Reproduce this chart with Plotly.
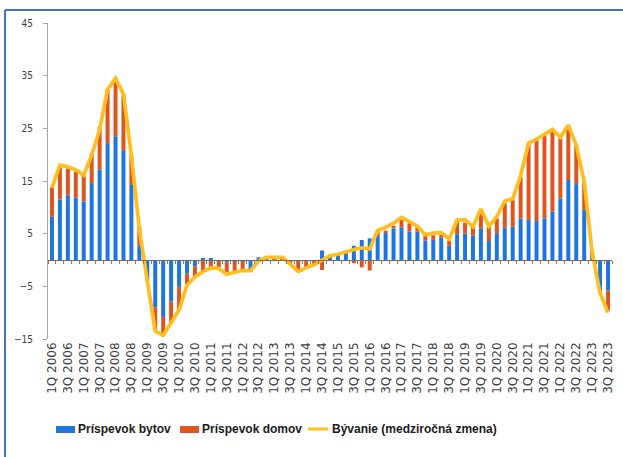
import plotly.graph_objects as go

years = list(range(2006, 2024))
quarters = [f"{q}Q {y}" for y in years for q in (1, 2, 3, 4)][:71]

# Príspevok bytov (blue)
byty = [8.2, 11.5, 12.3, 11.8, 11.1, 14.6, 17.2, 22.2, 23.5, 20.7,
        14.4, 2.7, -3.5, -9.0, -10.8, -7.9, -5.1, -2.6, -1.2, 0.3,
        0.2, -0.2, -0.5, -0.3, -0.3, -1.9, 0.5, 0.2, 0.1, 0.1,
        -0.1, -0.2, -0.1, -0.1, 1.8, 0.5, 0.9, 1.3, 2.7, 3.8,
        4.1, 4.7, 5.1, 6.0, 6.2, 5.4, 5.4, 3.7, 3.8, 4.3,
        2.7, 4.9, 5.0, 4.6, 6.0, 3.6, 5.1, 6.2, 6.3, 7.9,
        7.6, 7.4, 7.9, 9.2, 11.7, 15.2, 14.4, 9.6, 0.5, -6.0,
        -5.8]
# Príspevok domov (orange)
domy = [5.6, 6.1, 5.1, 5.0, 4.9, 5.7, 8.1, 10.2, 11.0, 10.6,
        5.5, 3.6, -0.5, -4.3, -3.4, -4.1, -4.4, -2.0, -1.9, -2.3,
        -1.3, -1.2, -1.9, -1.8, -1.5, -0.2, 0.0, 0.1, 0.1, 0.1,
        -0.5, -1.9, -1.2, -1.0, -1.9, 0.2, 0.2, 0.3, -0.6, -1.4,
        -2.0, 0.8, 0.5, 0.5, 1.4, 1.6, 0.8, 0.9, 0.9, 0.5,
        1.0, 2.3, 2.1, 1.7, 3.5, 2.7, 2.8, 4.6, 5.1, 7.9,
        14.6, 15.4, 15.8, 15.2, 11.4, 10.4, 7.4, 5.3, 1.2, -0.2,
        -3.8]
# Bývanie (medziročná zmena) (line)
byvanie = [13.7, 18.0, 17.7, 17.1, 16.1, 19.9, 24.7, 32.4, 34.5, 31.5,
           19.8, 5.9, -4.0, -13.5, -14.3, -12.0, -9.5, -4.8, -3.2, -2.2,
           -1.5, -1.6, -2.7, -2.3, -2.0, -2.0, -0.2, 0.5, 0.5, 0.5,
           -0.8, -2.2, -1.5, -0.9, 0.0, 0.8, 1.1, 1.6, 2.0, 2.3,
           2.1, 5.6, 6.2, 7.0, 8.1, 7.3, 6.4, 4.8, 5.1, 5.2,
           4.0, 7.6, 7.6, 6.3, 9.7, 6.4, 8.2, 11.2, 11.6, 16.0,
           22.2, 22.9, 23.9, 24.8, 23.3, 25.6, 21.8, 14.9, 1.5, -6.3,
           -10.0]

y_ticks = [-15, -5, 5, 15, 25, 35, 45]
series_names = ["Príspevok bytov", "Príspevok domov", "Bývanie (medziročná zmena)"]

BLUE = "#1F75DE"
ORANGE = "#DD5520"
YELLOW = "#FDBE1E"
TXT = "#404040"

fig = go.Figure()
fig.add_bar(x=quarters, y=byty, name=series_names[0], marker_color=BLUE,
            marker_line_width=0)
fig.add_bar(x=quarters, y=domy, name=series_names[1], marker_color=ORANGE,
            marker_line_width=0)
fig.add_scatter(x=quarters, y=byvanie, name=series_names[2],
                mode="lines", line=dict(color=YELLOW, width=3.7), xaxis="x2")

rng = [-0.5, len(quarters) - 0.5]
fig.update_layout(
    width=623, height=457,
    margin=dict(l=48, r=11, t=23, b=118, autoexpand=False),
    paper_bgcolor="white", plot_bgcolor="white",
    barmode="relative", bargap=0.5,
    showlegend=False,
    font=dict(family="DejaVu Sans, Verdana, sans-serif", color=TXT),
    xaxis=dict(type="category", categoryorder="array", categoryarray=quarters,
               range=rng, tickmode="array", tickvals=quarters[::2],
               ticktext=quarters[::2], tickangle=-90, ticks="",
               showline=False, showgrid=False, zeroline=False,
               tickfont=dict(size=12, color=TXT), anchor="y",
               automargin=False),
    xaxis2=dict(type="category", categoryorder="array", categoryarray=quarters,
                range=rng, overlaying="x", anchor="free", position=0.25,
                showline=True, linecolor="#6f6f6f", linewidth=1,
                ticks="outside", tickson="boundaries", ticklen=3,
                tickcolor="#b07040", dtick=1, showticklabels=False,
                showgrid=False, zeroline=False),
    yaxis=dict(range=[-15, 45], tickmode="array", tickvals=y_ticks,
               showgrid=False, zeroline=False, showline=True,
               linecolor="#a6a6a6", linewidth=1, ticks="outside", ticklen=4,
               tickcolor="#a6a6a6", ticklabelstandoff=8, automargin=False,
               tickfont=dict(size=10, color=TXT,
                             family="DejaVu Sans Condensed, sans-serif")),
)

# manual legend (wide swatches like the original)
leg_font = dict(size=12, color="#1a1a1a", weight="bold",
                family="Liberation Sans, Arial, sans-serif")
leg_y = -0.2848
fig.add_shape(type="rect", xref="paper", yref="paper", x0=0.0142, x1=0.0479,
              y0=-0.2753, y1=-0.2975, fillcolor=BLUE, line_width=0)
fig.add_shape(type="rect", xref="paper", yref="paper", x0=0.234, x1=0.2677,
              y0=-0.2753, y1=-0.2975, fillcolor=ORANGE, line_width=0)
fig.add_shape(type="line", xref="paper", yref="paper", x0=0.461, x1=0.4965,
              y0=leg_y, y1=leg_y, line=dict(color=YELLOW, width=3))
for xpos, name in zip([0.0514, 0.2713, 0.5018], series_names):
    fig.add_annotation(xref="paper", yref="paper", x=xpos, y=leg_y,
                       text=name, showarrow=False, xanchor="left",
                       yanchor="middle", font=leg_font, borderpad=0)

# frame lines of the surrounding box
fig.add_shape(type="line", xref="paper", yref="paper",
              x0=-0.0762, x1=-0.0762, y0=1.041, y1=-0.40,
              line=dict(color="#4472C4", width=2))
fig.add_shape(type="line", xref="paper", yref="paper",
              x0=-0.0762, x1=1.03, y0=1.041, y1=1.041,
              line=dict(color="#4472C4", width=2))

fig.write_html("out.html", config={"displayModeBar": False},
               post_script="document.body.style.margin='0';")
